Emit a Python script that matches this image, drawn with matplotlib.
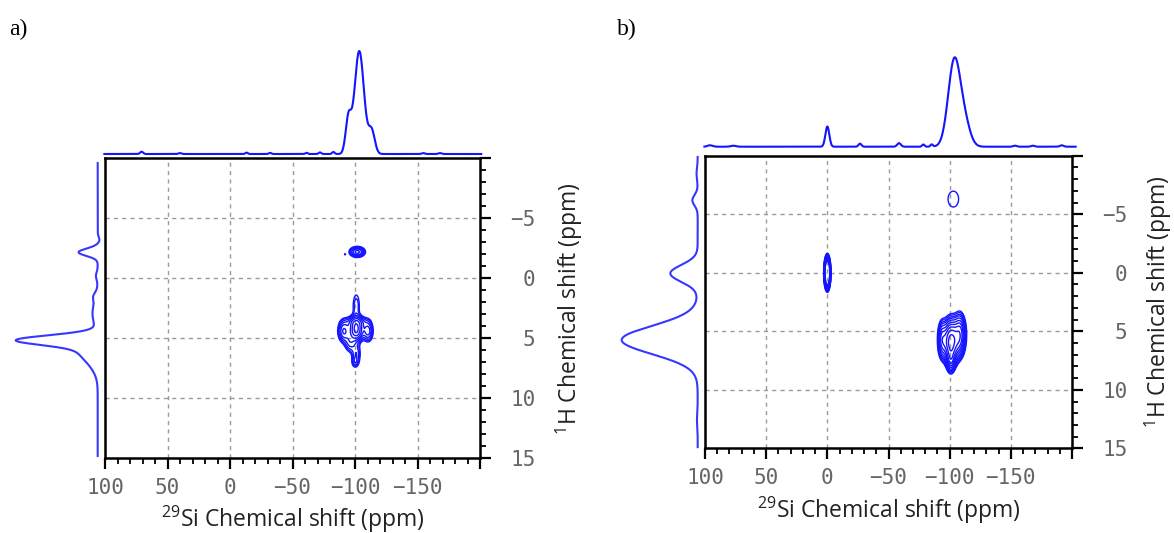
import numpy as np
import matplotlib
matplotlib.use("Agg")
import matplotlib.pyplot as plt
from matplotlib.ticker import FixedLocator, MultipleLocator

plt.rcParams["mathtext.fontset"] = "custom"
plt.rcParams["mathtext.rm"] = "Open Sans"

W, H = 1174, 533

# ---- panel a : 29Si projection (ppm, height, sigma)
a_si_pos = [-103.4, -94.7, -113.3, 70.7, 40.0, -13.3, -32.0, -61.3, -72.0, -82.7, -154.7, -168.0]
a_si_amp = [0.90, 0.30, 0.20, 0.020, 0.008, 0.012, 0.010, 0.010, 0.014, 0.018, 0.008, 0.008]
a_si_sig = [3.8, 2.2, 2.5, 1.2, 1.2, 1.0, 1.0, 1.0, 1.0, 1.0, 1.2, 1.2]

# ---- panel a : 1H projection
a_h_pos = [5.14, 5.9, 6.6, 2.9, 1.5, -2.17, -0.2, -3.2]
a_h_amp = [0.85, 0.12, 0.12, 0.06, 0.03, 0.22, 0.02, -0.02]
a_h_sig = [0.40, 0.60, 0.90, 1.00, 0.30, 0.30, 0.30, 0.25]

# ---- panel a : cross peaks (Si ppm, H ppm, sigma Si, sigma H, height)
a_cp_si = [-101.8, -92.0, -101.0, -91.0, -110.5, -101.0, -101.0, -96.0, -101.0, -100.0]
a_cp_h = [-2.2, -2.0, 4.3, 4.4, 4.4, 3.6, 2.3, 5.4, 6.3, 7.0]
a_cp_ssi = [3.7, 0.8, 3.5, 2.8, 2.5, 5.5, 2.4, 2.8, 2.4, 1.8]
a_cp_sh = [0.26, 0.10, 0.55, 0.55, 0.55, 0.30, 0.90, 0.50, 0.60, 0.30]
a_cp_amp = [0.60, 0.125, 1.00, 0.55, 0.45, 0.30, 0.20, 0.30, 0.28, 0.18]
a_levels = [0.12, 0.16, 0.22, 0.30, 0.40, 0.54, 0.73, 0.95]

# ---- panel b : 29Si projection
b_si_pos = [-103.8, -112.5, 0.0, 95.9, 76.9, -26.7, -58.6, -78.5, -85.3, -153.4, -168.0, -191.6]
b_si_amp = [0.85, 0.20, 0.20, 0.014, 0.010, 0.030, 0.035, 0.022, 0.022, 0.010, 0.010, 0.014]
b_si_sig = [5.0, 4.5, 1.6, 2.0, 2.0, 1.2, 1.5, 1.0, 1.0, 1.5, 1.5, 1.5]

# ---- panel b : 1H projection
b_h_pos = [5.74, 0.05, -6.2, -8.5, 12.5]
b_h_amp = [1.00, 0.36, 0.07, 0.015, 0.01]
b_h_sig = [1.20, 0.72, 0.45, 0.50, 0.60]

# ---- panel b : cross peaks
b_cp_si = [-103.0, 0.0, -101.0, -108.5, -93.5, -101.0]
b_cp_h = [-6.3, 0.0, 5.9, 5.3, 5.7, 7.6]
b_cp_ssi = [7.0, 1.2, 3.8, 3.0, 2.2, 2.0]
b_cp_sh = [1.10, 0.66, 1.15, 1.10, 1.00, 0.60]
b_cp_amp = [0.145, 3.00, 1.00, 0.60, 0.40, 0.30]
b_levels = [0.12, 0.15, 0.19, 0.23, 0.29, 0.37, 0.46, 0.57, 0.72, 0.90]

x_major = [100, 50, 0, -50, -100, -150, -200]
x_labels = ["100", "50", "0", "\u221250", "\u2212100", "\u2212150", ""]
y_major = [-10, -5, 0, 5, 10, 15]
y_labels = ["", "\u22125", "0", "5", "10", "15"]

BLUE = "#1414ff"
TICK_GRAY = "#666666"


def spectrum(ppm, pos, amp, sig):
    s = np.zeros_like(ppm)
    for p, a, w in zip(pos, amp, sig):
        s += a * np.exp(-(ppm - p) ** 2 / (2 * w ** 2))
    return s / s.max()


def plane(si, h, psi, ph, ssi, sh, amp):
    X, Y = np.meshgrid(si, h)
    Z = np.zeros_like(X)
    for a, b, c, d, e in zip(psi, ph, ssi, sh, amp):
        Z += e * np.exp(-(X - a) ** 2 / (2 * c ** 2) - (Y - b) ** 2 / (2 * d ** 2))
    return X, Y, Z


def px_axes(fig, left, top, right, bottom):
    return fig.add_axes([left / W, 1 - bottom / H, (right - left) / W, (bottom - top) / H])


def panel(fig, box, top_base, top_peak, left_base, left_peak, si_spec, h_spec, cp, levels,
          si_span, h_span, letter, letter_xy, xlab_y, ylab_x):
    l, t, r, b = box
    ax = px_axes(fig, l, t, r, b)
    si = np.linspace(100, -200, 601)
    h = np.linspace(-10, 15, 501)
    X, Y, Z = plane(si, h, *cp)
    ax.contour(X, Y, Z, levels=levels, colors=BLUE, linewidths=1.0)
    ax.set_xlim(100, -200)
    ax.set_ylim(15, -10)
    ax.grid(True, ls=(0, (3, 3)), color="#9a9a9a", lw=1.0)
    for s in ax.spines.values():
        s.set_linewidth(1.8)
        s.set_color("black")
    ax.xaxis.set_major_locator(FixedLocator(x_major))
    ax.set_xticklabels(x_labels)
    ax.xaxis.set_minor_locator(MultipleLocator(10))
    ax.yaxis.tick_right()
    ax.yaxis.set_major_locator(FixedLocator(y_major))
    ax.set_yticklabels(y_labels)
    ax.yaxis.set_minor_locator(MultipleLocator(1))
    ax.tick_params(which="major", direction="out", length=8, width=1.6,
                   labelsize=15, labelcolor=TICK_GRAY)
    ax.tick_params(which="minor", direction="out", length=4, width=1.3)
    ax.tick_params(axis="x", pad=6)
    ax.tick_params(axis="y", pad=32)
    for lab in ax.get_xticklabels() + ax.get_yticklabels():
        lab.set_family("DejaVu Sans Mono")
    for lab in ax.get_yticklabels():
        lab.set_ha("right")

    # top projection
    axt = px_axes(fig, l, top_peak, r, top_base)
    x1 = np.linspace(si_span[0], si_span[1], 900)
    axt.plot(x1, spectrum(x1, *si_spec), color=BLUE, lw=1.5, clip_on=False)
    axt.set_xlim(100, -200)
    axt.set_ylim(0, 1)
    axt.axis("off")

    # left projection
    axl = px_axes(fig, left_peak, t, left_base, b)
    y1 = np.linspace(h_span[0], h_span[1], 900)
    axl.plot(spectrum(y1, *h_spec), y1, color=BLUE, lw=1.5, alpha=0.85, clip_on=False)
    axl.set_xlim(1, 0)
    axl.set_ylim(15, -10)
    axl.axis("off")

    fig.text(letter_xy[0] / W, 1 - letter_xy[1] / H, letter, family="Liberation Serif",
             fontsize=17, ha="left", va="center")
    fig.text((l + r) / 2 / W, 1 - xlab_y / H, r"$\mathregular{^{29}}$Si Chemical shift (ppm)",
             family="Open Sans", fontsize=16.5, ha="center", va="center", color="#222222")
    fig.text(ylab_x / W, 1 - (t + b) / 2 / H, r"$\mathregular{^{1}}$H Chemical shift (ppm)",
             family="Open Sans", fontsize=16.5, ha="center", va="center", rotation=90,
             color="#222222")


fig = plt.figure(figsize=(W / 100, H / 100), dpi=100)

panel(fig, (105, 158.3, 480, 458.3), 154, 51, 97.7, 15.7,
      (a_si_pos, a_si_amp, a_si_sig), (a_h_pos, a_h_amp, a_h_sig),
      (a_cp_si, a_cp_h, a_cp_ssi, a_cp_sh, a_cp_amp), a_levels,
      (100.5, -201), (-9.6, 14.8), "a)", (9, 29), 519, 569)

panel(fig, (705, 155.8, 1072, 448.3), 146.7, 57.3, 697.7, 621.7,
      (b_si_pos, b_si_amp, b_si_sig), (b_h_pos, b_h_amp, b_h_sig),
      (b_cp_si, b_cp_h, b_cp_ssi, b_cp_sh, b_cp_amp), b_levels,
      (100.5, -203), (-9.9, 14.9), "b)", (617, 29), 510, 1158)

fig.savefig("out.png", dpi=100)
